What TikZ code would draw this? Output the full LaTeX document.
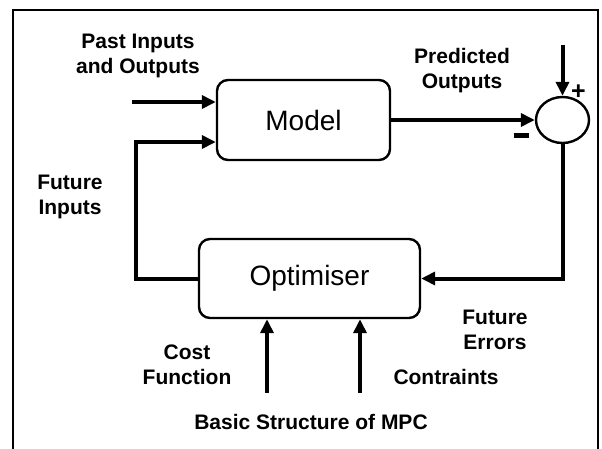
\documentclass[tikz,border=0pt]{standalone}
\usepackage{fontspec}
\setmainfont{Liberation Sans}
\usepackage{tikz}
\usetikzlibrary{arrows.meta,positioning,shapes.geometric}
\tikzset{
  block/.style={draw=black,line width=2.4pt,rounded corners=11pt,align=center,font=\fontsize{28}{32}\selectfont},
  sumnode/.style={draw=black,ellipse,line width=2.4pt,minimum width=53pt,minimum height=46pt,inner sep=0pt},
  lbl/.style={align=center,inner sep=0pt,font=\fontsize{21}{25}\selectfont\bfseries},
  sign/.style={inner sep=0pt,font=\fontsize{25}{25}\selectfont\bfseries},
  flow/.style={-{Triangle[length=14pt,width=13pt]},line width=4pt},
  frame/.style={line width=2pt},
}

\begin{document}
\begin{tikzpicture}[x=1pt,y=-1pt]
    \clip (0,0) rectangle (602,448);
    \draw[frame] (13,10) rectangle (598,470);
    % blocks
    \node[block,minimum width=173pt,minimum height=80pt] (model) at (303.5,120) {Model};
    \node[block,minimum width=221pt,minimum height=79pt] (opt) at (309.5,278.5) {Optimiser};
    \node[sumnode] (sum) at (562.5,120) {};
    % labels
    \node[lbl] (past) at (138,56) {Past Inputs\\and Outputs};
    \node[lbl] (pred) at (462,71) {Predicted\\Outputs};
    \node[lbl] (fin) at (70,197) {Future\\Inputs};
    \node[lbl] (ferr) at (495,330) {Future\\Errors};
    \node[lbl] (cost) at (187,365) {Cost\\Function};
    \node[lbl] (cons) at (446,377) {Contraints};
    \node[lbl] (title) at (311,422) {Basic Structure of MPC};
    \node[sign] (plus) at (578.5,92) {+};
    \node[sign] (minus) at (521,135) {\rule{15pt}{5pt}};
    % connectors
    \coordinate (pastin) at (132,102);
    \coordinate (fbk) at (136,142);
    \coordinate (ref) at (562.5,45);
    \draw[flow] (pastin) -- (pastin -| model.west);
    \draw[flow] (opt.west) -| (fbk) -- (fbk -| model.west);
    \draw[flow] (model.east) -- (sum.west);
    \draw[flow] (ref) -- (sum.north);
    \draw[flow] (sum.south) |- (opt.east);
    \foreach \n/\xx in {cf/267,cn/360}{
      \coordinate (\n) at (\xx,393);
      \draw[flow] (\n) -- (\n |- opt.south);
    }
  \end{tikzpicture}
\end{document}
